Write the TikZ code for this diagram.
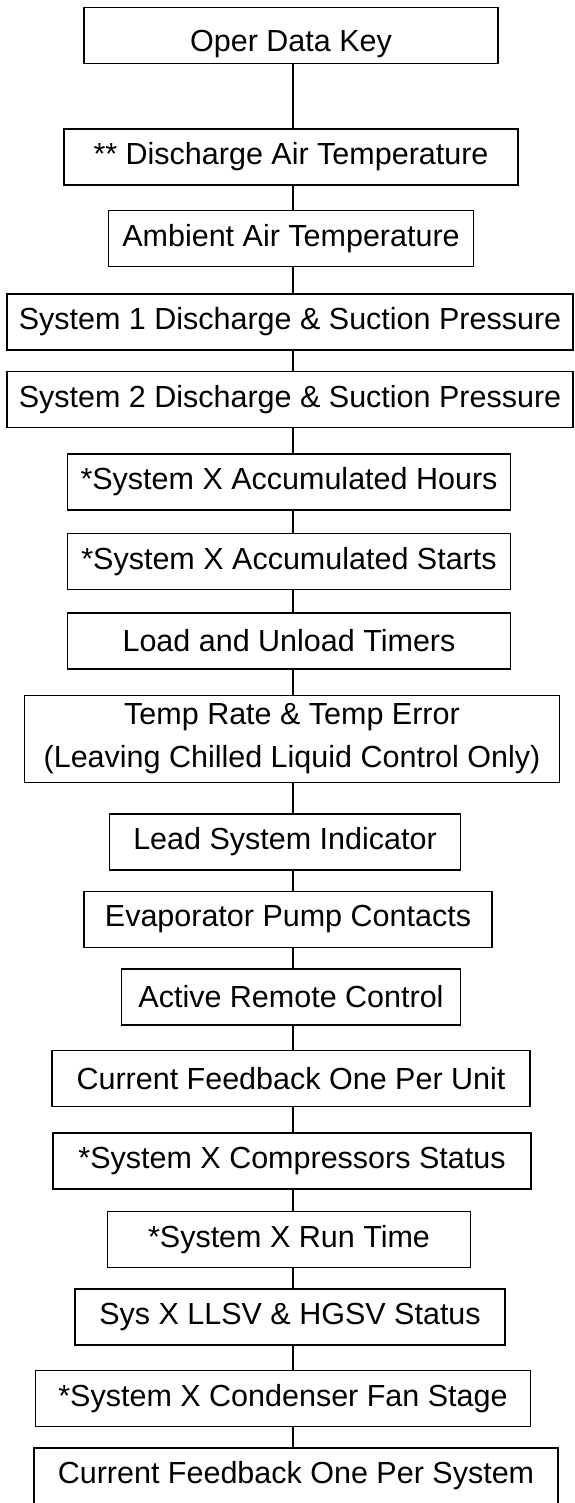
\documentclass[tikz,border=0pt]{standalone}
\usepackage{fontspec}
\setmainfont{Liberation Sans}
\usetikzlibrary{positioning}

\begin{document}
\begin{tikzpicture}[x=1pt, y=1pt, font=\fontsize{30.5}{43}\selectfont, every node/.style={align=center},
  box/.style={draw, line width=1.6pt, minimum height=56pt, inner sep=2pt, outer sep=0pt},
  link/.style={line width=1.6pt}]
\useasboundingbox (0,0) rectangle (574,-1503);
\node[box, minimum width=414pt, text height=32pt, text depth=0pt] (oper) at (291,-35.5) {Oper Data Key};
\node[box, minimum width=454pt, below=65.5pt of oper] (dat) {** Discharge Air Temperature};
\node[box, minimum width=365pt, below=25.5pt of dat] (amb) {Ambient Air Temperature};
\node[box, minimum width=566pt, below=27.5pt of amb, xshift=-1pt] (sysone) {System 1 Discharge \& Suction Pressure};
\node[box, minimum width=566pt, below=21.5pt of sysone] (systwo) {System 2 Discharge \& Suction Pressure};
\node[box, minimum width=443pt, below=26.5pt of systwo, xshift=-1pt] (hours) {*System X Accumulated Hours};
\node[box, minimum width=443pt, below=23.5pt of hours] (starts) {*System X Accumulated Starts};
\node[box, minimum width=443pt, below=23.5pt of starts] (timers) {Load and Unload Timers};
\node[box, minimum width=535pt, minimum height=87pt, below=26.5pt of timers, xshift=3pt] (temp) {Temp Rate \& Temp Error\\(Leaving Chilled Liquid Control Only)};
\node[box, minimum width=351pt, below=31.5pt of temp, xshift=-7pt] (lead) {Lead System Indicator};
\node[box, minimum width=408pt, below=21.5pt of lead, xshift=3pt] (evap) {Evaporator Pump Contacts};
\node[box, minimum width=339pt, below=21.5pt of evap, xshift=3pt] (remote) {Active Remote Control};
\node[box, minimum width=478pt, below=25.5pt of remote] (curunit) {Current Feedback One Per Unit};
\node[box, minimum width=478pt, below=26.5pt of curunit, xshift=1pt] (comp) {*System X Compressors Status};
\node[box, minimum width=363pt, below=22.5pt of comp, xshift=-3pt] (runtime) {*System X Run Time};
\node[box, minimum width=430pt, below=21.5pt of runtime, xshift=1pt] (valves) {Sys X LLSV \& HGSV Status};
\node[box, minimum width=495pt, below=25.5pt of valves, xshift=-7pt] (fan) {*System X Condenser Fan Stage};
\node[box, minimum width=524pt, below=21.5pt of fan, xshift=13pt] (cursys) {Current Feedback One Per System};
\draw[link] (oper.south -| 293,0) -- (dat.north -| 293,0);
\draw[link] (dat.south -| 293,0) -- (amb.north -| 293,0);
\draw[link] (amb.south -| 293,0) -- (sysone.north -| 293,0);
\draw[link] (sysone.south -| 293,0) -- (systwo.north -| 293,0);
\draw[link] (systwo.south -| 293,0) -- (hours.north -| 293,0);
\draw[link] (hours.south -| 293,0) -- (starts.north -| 293,0);
\draw[link] (starts.south -| 293,0) -- (timers.north -| 293,0);
\draw[link] (timers.south -| 293,0) -- (temp.north -| 293,0);
\draw[link] (temp.south -| 293,0) -- (lead.north -| 293,0);
\draw[link] (lead.south -| 293,0) -- (evap.north -| 293,0);
\draw[link] (evap.south -| 293,0) -- (remote.north -| 293,0);
\draw[link] (remote.south -| 293,0) -- (curunit.north -| 293,0);
\draw[link] (curunit.south -| 293,0) -- (comp.north -| 293,0);
\draw[link] (comp.south -| 293,0) -- (runtime.north -| 293,0);
\draw[link] (runtime.south -| 293,0) -- (valves.north -| 293,0);
\draw[link] (valves.south -| 293,0) -- (fan.north -| 293,0);
\draw[link] (fan.south -| 293,0) -- (cursys.north -| 293,0);
\end{tikzpicture}
\end{document}
